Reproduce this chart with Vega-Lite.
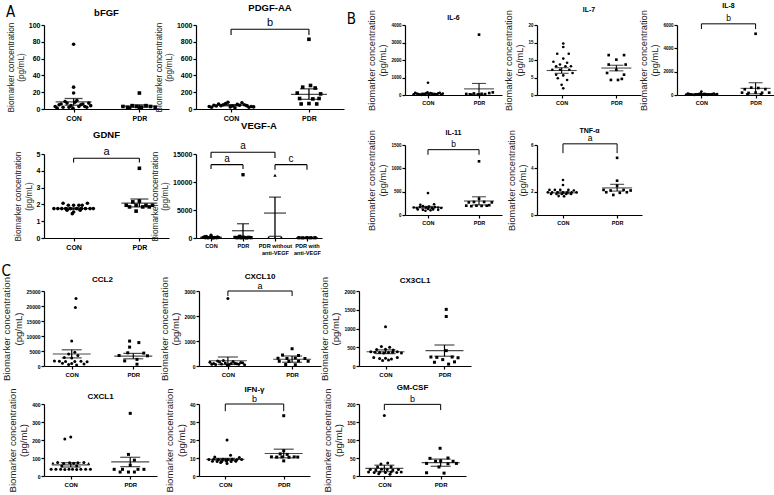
{
"$schema":"https://vega.github.io/schema/vega-lite/v6.json",
"padding":{"left":1,"top":1,"right":1,"bottom":0},
"background":"white",
"config":{
"view":{"stroke":null},
"font":"Liberation Sans",
"axis":{"grid":false,"domainColor":"#000","tickColor":"#000","domainWidth":1.2,"tickWidth":1.2,"labelColor":"#000","labelFontWeight":"bold","titleColor":"#222","titleFontWeight":"normal","labelFont":"Liberation Sans","titleFont":"Liberation Sans","labelOverlap":false,"labelFlush":false},
"axisX":{"tickSize":3,"labelPadding":2},
"axisY":{"tickSize":3,"labelPadding":1},
"title":{"fontWeight":"bold","color":"#000","anchor":"middle","frame":"group","font":"Liberation Sans"},
"point":{"filled":true,"color":"#000","opacity":1},
"rule":{"color":"#000"},
"tick":{"color":"#000"},
"text":{"color":"#000","font":"Liberation Sans"}
},
"datasets":{
"pts":[
{"p":"bFGF","g":"C","x":1,"v":77},{"p":"bFGF","g":"C","x":1,"v":26},{"p":"bFGF","g":"C","x":1,"v":19},{"p":"bFGF","g":"C","x":0.72,"v":3},{"p":"bFGF","g":"C","x":0.78,"v":5},{"p":"bFGF","g":"C","x":0.84,"v":2},{"p":"bFGF","g":"C","x":0.9,"v":7},{"p":"bFGF","g":"C","x":0.96,"v":4},{"p":"bFGF","g":"C","x":1.02,"v":8},{"p":"bFGF","g":"C","x":1.08,"v":3},{"p":"bFGF","g":"C","x":1.14,"v":6},{"p":"bFGF","g":"C","x":1.2,"v":2},{"p":"bFGF","g":"C","x":1.26,"v":4},{"p":"bFGF","g":"C","x":0.75,"v":1},{"p":"bFGF","g":"C","x":0.87,"v":9},{"p":"bFGF","g":"C","x":0.99,"v":1},{"p":"bFGF","g":"C","x":1.11,"v":5},{"p":"bFGF","g":"C","x":1.23,"v":7},{"p":"bFGF","g":"C","x":0.81,"v":6},{"p":"bFGF","g":"C","x":0.93,"v":2},{"p":"bFGF","g":"C","x":1.05,"v":10},{"p":"bFGF","g":"C","x":1.17,"v":3},
{"p":"bFGF","g":"P","x":2,"v":19},{"p":"bFGF","g":"P","x":1.75,"v":3},{"p":"bFGF","g":"P","x":1.82,"v":2},{"p":"bFGF","g":"P","x":1.89,"v":4},{"p":"bFGF","g":"P","x":1.96,"v":3},{"p":"bFGF","g":"P","x":2.03,"v":2},{"p":"bFGF","g":"P","x":2.1,"v":4},{"p":"bFGF","g":"P","x":2.17,"v":3},{"p":"bFGF","g":"P","x":2.24,"v":2},{"p":"bFGF","g":"P","x":1.85,"v":1},{"p":"bFGF","g":"P","x":2,"v":1},
{"p":"PDGF","g":"C","x":0.72,"v":30},{"p":"PDGF","g":"C","x":0.78,"v":45},{"p":"PDGF","g":"C","x":0.84,"v":60},{"p":"PDGF","g":"C","x":0.9,"v":50},{"p":"PDGF","g":"C","x":0.96,"v":80},{"p":"PDGF","g":"C","x":1.02,"v":35},{"p":"PDGF","g":"C","x":1.08,"v":55},{"p":"PDGF","g":"C","x":1.14,"v":75},{"p":"PDGF","g":"C","x":1.2,"v":40},{"p":"PDGF","g":"C","x":1.26,"v":30},{"p":"PDGF","g":"C","x":0.75,"v":20},{"p":"PDGF","g":"C","x":0.87,"v":40},{"p":"PDGF","g":"C","x":0.99,"v":25},{"p":"PDGF","g":"C","x":1.11,"v":45},{"p":"PDGF","g":"C","x":1.23,"v":20},{"p":"PDGF","g":"C","x":0.81,"v":35},{"p":"PDGF","g":"C","x":0.93,"v":65},{"p":"PDGF","g":"C","x":1.05,"v":15},{"p":"PDGF","g":"C","x":1.17,"v":50},{"p":"PDGF","g":"C","x":1.29,"v":25},
{"p":"PDGF","g":"P","x":2,"v":830},{"p":"PDGF","g":"P","x":1.92,"v":260},{"p":"PDGF","g":"P","x":2.02,"v":280},{"p":"PDGF","g":"P","x":2.08,"v":250},{"p":"PDGF","g":"P","x":1.85,"v":190},{"p":"PDGF","g":"P","x":2.15,"v":180},{"p":"PDGF","g":"P","x":1.88,"v":125},{"p":"PDGF","g":"P","x":2.05,"v":120},{"p":"PDGF","g":"P","x":2.13,"v":125},{"p":"PDGF","g":"P","x":1.9,"v":60},{"p":"PDGF","g":"P","x":2,"v":65},{"p":"PDGF","g":"P","x":2.1,"v":60},
{"p":"GDNF","g":"C","x":0.84,"v":2.07},{"p":"GDNF","g":"C","x":1.21,"v":2.07},{"p":"GDNF","g":"C","x":0.92,"v":1.95},{"p":"GDNF","g":"C","x":1,"v":1.95},{"p":"GDNF","g":"C","x":1.08,"v":1.95},{"p":"GDNF","g":"C","x":1.13,"v":1.95},{"p":"GDNF","g":"C","x":0.7,"v":1.75},{"p":"GDNF","g":"C","x":0.76,"v":1.75},{"p":"GDNF","g":"C","x":0.82,"v":1.75},{"p":"GDNF","g":"C","x":0.88,"v":1.75},{"p":"GDNF","g":"C","x":0.95,"v":1.75},{"p":"GDNF","g":"C","x":1.05,"v":1.75},{"p":"GDNF","g":"C","x":1.12,"v":1.75},{"p":"GDNF","g":"C","x":1.18,"v":1.75},{"p":"GDNF","g":"C","x":1.25,"v":1.75},{"p":"GDNF","g":"C","x":1.3,"v":1.75},{"p":"GDNF","g":"C","x":0.9,"v":1.65},{"p":"GDNF","g":"C","x":1,"v":1.55},{"p":"GDNF","g":"C","x":1.1,"v":1.65},{"p":"GDNF","g":"C","x":0.98,"v":1.45},
{"p":"GDNF","g":"P","x":2,"v":4.15},{"p":"GDNF","g":"P","x":1.9,"v":2.15},{"p":"GDNF","g":"P","x":2,"v":2.2},{"p":"GDNF","g":"P","x":1.8,"v":1.95},{"p":"GDNF","g":"P","x":1.95,"v":1.95},{"p":"GDNF","g":"P","x":2.1,"v":1.95},{"p":"GDNF","g":"P","x":2.2,"v":1.95},{"p":"GDNF","g":"P","x":1.85,"v":1.85},{"p":"GDNF","g":"P","x":2.05,"v":1.85},{"p":"GDNF","g":"P","x":2.15,"v":1.85},{"p":"GDNF","g":"P","x":1.95,"v":1.6},
{"p":"VEGF","g":"C","x":1,"v":500},{"p":"VEGF","g":"C","x":0.75,"v":100},{"p":"VEGF","g":"C","x":0.82,"v":50},{"p":"VEGF","g":"C","x":0.88,"v":150},{"p":"VEGF","g":"C","x":0.94,"v":80},{"p":"VEGF","g":"C","x":1,"v":200},{"p":"VEGF","g":"C","x":1.06,"v":60},{"p":"VEGF","g":"C","x":1.12,"v":120},{"p":"VEGF","g":"C","x":1.18,"v":40},{"p":"VEGF","g":"C","x":1.24,"v":90},{"p":"VEGF","g":"C","x":0.8,"v":250},{"p":"VEGF","g":"C","x":0.9,"v":20},{"p":"VEGF","g":"C","x":1.1,"v":30},{"p":"VEGF","g":"C","x":1.2,"v":180},{"p":"VEGF","g":"C","x":0.85,"v":300},{"p":"VEGF","g":"C","x":1.05,"v":10},{"p":"VEGF","g":"C","x":1.15,"v":70},
{"p":"VEGF","g":"P","x":2,"v":11300},{"p":"VEGF","g":"P","x":1.75,"v":100},{"p":"VEGF","g":"P","x":1.82,"v":50},{"p":"VEGF","g":"P","x":1.88,"v":200},{"p":"VEGF","g":"P","x":1.94,"v":30},{"p":"VEGF","g":"P","x":2,"v":150},{"p":"VEGF","g":"P","x":2.06,"v":80},{"p":"VEGF","g":"P","x":2.12,"v":20},{"p":"VEGF","g":"P","x":2.18,"v":120},{"p":"VEGF","g":"P","x":2.25,"v":60},{"p":"VEGF","g":"P","x":1.9,"v":300},
{"p":"VEGF","g":"W","x":3,"v":11200},{"p":"VEGF","g":"W","x":2.8,"v":100},{"p":"VEGF","g":"W","x":3,"v":80},{"p":"VEGF","g":"W","x":3.2,"v":120},
{"p":"VEGF","g":"A","x":3.75,"v":50},{"p":"VEGF","g":"A","x":3.87,"v":30},{"p":"VEGF","g":"A","x":4,"v":60},{"p":"VEGF","g":"A","x":4.12,"v":40},{"p":"VEGF","g":"A","x":4.25,"v":50},
{"p":"IL6","g":"C","x":1,"v":700},{"p":"IL6","g":"C","x":0.72,"v":40},{"p":"IL6","g":"C","x":0.78,"v":80},{"p":"IL6","g":"C","x":0.84,"v":20},{"p":"IL6","g":"C","x":0.9,"v":60},{"p":"IL6","g":"C","x":0.96,"v":100},{"p":"IL6","g":"C","x":1.02,"v":30},{"p":"IL6","g":"C","x":1.08,"v":70},{"p":"IL6","g":"C","x":1.14,"v":50},{"p":"IL6","g":"C","x":1.2,"v":90},{"p":"IL6","g":"C","x":1.26,"v":20},{"p":"IL6","g":"C","x":0.75,"v":120},{"p":"IL6","g":"C","x":0.87,"v":10},{"p":"IL6","g":"C","x":0.99,"v":150},{"p":"IL6","g":"C","x":1.11,"v":15},{"p":"IL6","g":"C","x":1.23,"v":130},{"p":"IL6","g":"C","x":0.81,"v":60},{"p":"IL6","g":"C","x":0.93,"v":45},{"p":"IL6","g":"C","x":1.05,"v":110},{"p":"IL6","g":"C","x":1.17,"v":35},{"p":"IL6","g":"C","x":1.29,"v":80},
{"p":"IL6","g":"P","x":2,"v":3450},{"p":"IL6","g":"P","x":1.75,"v":60},{"p":"IL6","g":"P","x":1.82,"v":40},{"p":"IL6","g":"P","x":1.9,"v":90},{"p":"IL6","g":"P","x":1.98,"v":30},{"p":"IL6","g":"P","x":2.05,"v":70},{"p":"IL6","g":"P","x":2.12,"v":50},{"p":"IL6","g":"P","x":2.2,"v":110},{"p":"IL6","g":"P","x":2.27,"v":150},{"p":"IL6","g":"P","x":1.85,"v":20},{"p":"IL6","g":"P","x":2,"v":10},
{"p":"IL7","g":"C","x":1.03,"v":14.7},{"p":"IL7","g":"C","x":1.03,"v":13.7},{"p":"IL7","g":"C","x":0.92,"v":11.8},{"p":"IL7","g":"C","x":1.13,"v":11.8},{"p":"IL7","g":"C","x":1.03,"v":10.4},{"p":"IL7","g":"C","x":0.85,"v":9.5},{"p":"IL7","g":"C","x":1.1,"v":9.2},{"p":"IL7","g":"C","x":0.97,"v":8.7},{"p":"IL7","g":"C","x":0.9,"v":8.2},{"p":"IL7","g":"C","x":1.07,"v":8.2},{"p":"IL7","g":"C","x":1.17,"v":8.2},{"p":"IL7","g":"C","x":0.83,"v":7.2},{"p":"IL7","g":"C","x":0.97,"v":7.2},{"p":"IL7","g":"C","x":1.14,"v":7.2},{"p":"IL7","g":"C","x":1.2,"v":6.3},{"p":"IL7","g":"C","x":0.9,"v":5.8},{"p":"IL7","g":"C","x":1.03,"v":5.6},{"p":"IL7","g":"C","x":0.93,"v":4.8},{"p":"IL7","g":"C","x":1.1,"v":4.3},{"p":"IL7","g":"C","x":1,"v":2.9},{"p":"IL7","g":"C","x":1.03,"v":1.9},
{"p":"IL7","g":"P","x":1.86,"v":11.4},{"p":"IL7","g":"P","x":2.14,"v":11.4},{"p":"IL7","g":"P","x":2,"v":10.1},{"p":"IL7","g":"P","x":1.86,"v":8.7},{"p":"IL7","g":"P","x":2.17,"v":8.7},{"p":"IL7","g":"P","x":2,"v":7.2},{"p":"IL7","g":"P","x":1.83,"v":6.3},{"p":"IL7","g":"P","x":2.14,"v":5.8},{"p":"IL7","g":"P","x":1.9,"v":4.3},{"p":"IL7","g":"P","x":2.03,"v":4.3},{"p":"IL7","g":"P","x":2.1,"v":4.6},
{"p":"IL8","g":"C","x":1,"v":290},{"p":"IL8","g":"C","x":0.72,"v":40},{"p":"IL8","g":"C","x":0.78,"v":80},{"p":"IL8","g":"C","x":0.84,"v":20},{"p":"IL8","g":"C","x":0.9,"v":60},{"p":"IL8","g":"C","x":0.96,"v":100},{"p":"IL8","g":"C","x":1.02,"v":30},{"p":"IL8","g":"C","x":1.08,"v":70},{"p":"IL8","g":"C","x":1.14,"v":50},{"p":"IL8","g":"C","x":1.2,"v":90},{"p":"IL8","g":"C","x":1.26,"v":20},{"p":"IL8","g":"C","x":0.75,"v":120},{"p":"IL8","g":"C","x":0.87,"v":10},{"p":"IL8","g":"C","x":0.99,"v":150},{"p":"IL8","g":"C","x":1.11,"v":15},{"p":"IL8","g":"C","x":1.23,"v":130},{"p":"IL8","g":"C","x":0.81,"v":60},{"p":"IL8","g":"C","x":0.93,"v":45},{"p":"IL8","g":"C","x":1.05,"v":110},{"p":"IL8","g":"C","x":1.17,"v":35},{"p":"IL8","g":"C","x":1.29,"v":80},
{"p":"IL8","g":"P","x":2,"v":5250},{"p":"IL8","g":"P","x":1.92,"v":630},{"p":"IL8","g":"P","x":2.05,"v":600},{"p":"IL8","g":"P","x":1.8,"v":490},{"p":"IL8","g":"P","x":2.18,"v":500},{"p":"IL8","g":"P","x":1.75,"v":200},{"p":"IL8","g":"P","x":1.87,"v":180},{"p":"IL8","g":"P","x":2,"v":210},{"p":"IL8","g":"P","x":2.12,"v":190},{"p":"IL8","g":"P","x":2.25,"v":200},{"p":"IL8","g":"P","x":1.85,"v":60},{"p":"IL8","g":"P","x":2.1,"v":50},
{"p":"IL11","g":"C","x":1,"v":470},{"p":"IL11","g":"C","x":0.85,"v":220},{"p":"IL11","g":"C","x":1.12,"v":230},{"p":"IL11","g":"C","x":0.72,"v":160},{"p":"IL11","g":"C","x":0.78,"v":150},{"p":"IL11","g":"C","x":0.84,"v":170},{"p":"IL11","g":"C","x":0.9,"v":190},{"p":"IL11","g":"C","x":0.96,"v":160},{"p":"IL11","g":"C","x":1.02,"v":180},{"p":"IL11","g":"C","x":1.08,"v":150},{"p":"IL11","g":"C","x":1.14,"v":170},{"p":"IL11","g":"C","x":1.2,"v":160},{"p":"IL11","g":"C","x":1.26,"v":150},{"p":"IL11","g":"C","x":0.8,"v":120},{"p":"IL11","g":"C","x":0.9,"v":110},{"p":"IL11","g":"C","x":1,"v":130},{"p":"IL11","g":"C","x":1.1,"v":120},{"p":"IL11","g":"C","x":1.2,"v":110},{"p":"IL11","g":"C","x":0.95,"v":90},{"p":"IL11","g":"C","x":1.05,"v":100},
{"p":"IL11","g":"P","x":2,"v":1150},{"p":"IL11","g":"P","x":2,"v":350},{"p":"IL11","g":"P","x":1.8,"v":270},{"p":"IL11","g":"P","x":1.9,"v":280},{"p":"IL11","g":"P","x":2.1,"v":280},{"p":"IL11","g":"P","x":2.25,"v":270},{"p":"IL11","g":"P","x":1.75,"v":200},{"p":"IL11","g":"P","x":1.85,"v":190},{"p":"IL11","g":"P","x":1.95,"v":200},{"p":"IL11","g":"P","x":2.05,"v":195},{"p":"IL11","g":"P","x":2.15,"v":200},{"p":"IL11","g":"P","x":2.2,"v":210},
{"p":"TNF","g":"C","x":1,"v":3.0},{"p":"TNF","g":"C","x":1,"v":2.57},{"p":"TNF","g":"C","x":0.75,"v":2.15},{"p":"TNF","g":"C","x":0.85,"v":2.15},{"p":"TNF","g":"C","x":0.95,"v":2.15},{"p":"TNF","g":"C","x":1.1,"v":2.15},{"p":"TNF","g":"C","x":1.2,"v":2.1},{"p":"TNF","g":"C","x":0.72,"v":1.94},{"p":"TNF","g":"C","x":0.8,"v":1.94},{"p":"TNF","g":"C","x":0.9,"v":1.94},{"p":"TNF","g":"C","x":1,"v":1.94},{"p":"TNF","g":"C","x":1.08,"v":1.94},{"p":"TNF","g":"C","x":1.16,"v":1.94},{"p":"TNF","g":"C","x":1.25,"v":1.94},{"p":"TNF","g":"C","x":0.78,"v":1.8},{"p":"TNF","g":"C","x":0.88,"v":1.8},{"p":"TNF","g":"C","x":0.98,"v":1.8},{"p":"TNF","g":"C","x":1.06,"v":1.8},{"p":"TNF","g":"C","x":1.15,"v":1.8},{"p":"TNF","g":"C","x":0.92,"v":1.62},{"p":"TNF","g":"C","x":1.02,"v":1.6},
{"p":"TNF","g":"P","x":2,"v":4.9},{"p":"TNF","g":"P","x":2,"v":2.94},{"p":"TNF","g":"P","x":2,"v":2.5},{"p":"TNF","g":"P","x":1.75,"v":2.15},{"p":"TNF","g":"P","x":1.88,"v":2.1},{"p":"TNF","g":"P","x":2.12,"v":2.15},{"p":"TNF","g":"P","x":2.25,"v":2.1},{"p":"TNF","g":"P","x":1.8,"v":1.95},{"p":"TNF","g":"P","x":2.05,"v":1.9},{"p":"TNF","g":"P","x":2.18,"v":1.95},{"p":"TNF","g":"P","x":1.93,"v":1.72},
{"p":"CCL2","g":"C","x":1.07,"v":22500},{"p":"CCL2","g":"C","x":1.06,"v":19500},{"p":"CCL2","g":"C","x":1,"v":8300},{"p":"CCL2","g":"C","x":1.05,"v":4600},{"p":"CCL2","g":"C","x":0.95,"v":4000},{"p":"CCL2","g":"C","x":1.1,"v":3500},{"p":"CCL2","g":"C","x":0.88,"v":2800},{"p":"CCL2","g":"C","x":1,"v":2700},{"p":"CCL2","g":"C","x":0.72,"v":1700},{"p":"CCL2","g":"C","x":0.8,"v":1600},{"p":"CCL2","g":"C","x":0.9,"v":1500},{"p":"CCL2","g":"C","x":1.05,"v":1500},{"p":"CCL2","g":"C","x":1.15,"v":1600},{"p":"CCL2","g":"C","x":1.25,"v":1400},{"p":"CCL2","g":"C","x":0.85,"v":900},{"p":"CCL2","g":"C","x":1,"v":800},{"p":"CCL2","g":"C","x":1.2,"v":700},{"p":"CCL2","g":"C","x":0.95,"v":500},{"p":"CCL2","g":"C","x":1.08,"v":300},
{"p":"CCL2","g":"P","x":1.94,"v":8300},{"p":"CCL2","g":"P","x":2.09,"v":7800},{"p":"CCL2","g":"P","x":1.94,"v":6300},{"p":"CCL2","g":"P","x":1.91,"v":4400},{"p":"CCL2","g":"P","x":2.17,"v":4300},{"p":"CCL2","g":"P","x":1.77,"v":3500},{"p":"CCL2","g":"P","x":2.23,"v":3400},{"p":"CCL2","g":"P","x":2.06,"v":2200},{"p":"CCL2","g":"P","x":1.86,"v":1700},{"p":"CCL2","g":"P","x":2.06,"v":600},
{"p":"CXCL10","g":"C","x":1,"v":2700},{"p":"CXCL10","g":"C","x":0.72,"v":150},{"p":"CXCL10","g":"C","x":0.78,"v":100},{"p":"CXCL10","g":"C","x":0.84,"v":200},{"p":"CXCL10","g":"C","x":0.9,"v":80},{"p":"CXCL10","g":"C","x":0.96,"v":120},{"p":"CXCL10","g":"C","x":1.02,"v":60},{"p":"CXCL10","g":"C","x":1.08,"v":180},{"p":"CXCL10","g":"C","x":1.14,"v":90},{"p":"CXCL10","g":"C","x":1.2,"v":140},{"p":"CXCL10","g":"C","x":1.26,"v":50},{"p":"CXCL10","g":"C","x":0.75,"v":70},{"p":"CXCL10","g":"C","x":0.87,"v":160},{"p":"CXCL10","g":"C","x":0.99,"v":40},{"p":"CXCL10","g":"C","x":1.11,"v":110},{"p":"CXCL10","g":"C","x":1.23,"v":130},{"p":"CXCL10","g":"C","x":0.81,"v":60},{"p":"CXCL10","g":"C","x":0.93,"v":220},{"p":"CXCL10","g":"C","x":1.05,"v":100},{"p":"CXCL10","g":"C","x":1.17,"v":75},
{"p":"CXCL10","g":"P","x":2,"v":690},{"p":"CXCL10","g":"P","x":1.85,"v":440},{"p":"CXCL10","g":"P","x":2.1,"v":420},{"p":"CXCL10","g":"P","x":1.78,"v":310},{"p":"CXCL10","g":"P","x":1.92,"v":300},{"p":"CXCL10","g":"P","x":2.05,"v":320},{"p":"CXCL10","g":"P","x":2.2,"v":300},{"p":"CXCL10","g":"P","x":1.8,"v":190},{"p":"CXCL10","g":"P","x":1.95,"v":180},{"p":"CXCL10","g":"P","x":2.1,"v":200},{"p":"CXCL10","g":"P","x":2.25,"v":190},{"p":"CXCL10","g":"P","x":1.9,"v":60},{"p":"CXCL10","g":"P","x":2.05,"v":50},
{"p":"CX3CL1","g":"C","x":1,"v":1050},{"p":"CX3CL1","g":"C","x":0.93,"v":520},{"p":"CX3CL1","g":"C","x":1.07,"v":500},{"p":"CX3CL1","g":"C","x":0.85,"v":440},{"p":"CX3CL1","g":"C","x":1,"v":450},{"p":"CX3CL1","g":"C","x":1.13,"v":430},{"p":"CX3CL1","g":"C","x":0.75,"v":380},{"p":"CX3CL1","g":"C","x":0.82,"v":370},{"p":"CX3CL1","g":"C","x":0.9,"v":360},{"p":"CX3CL1","g":"C","x":0.97,"v":350},{"p":"CX3CL1","g":"C","x":1.05,"v":360},{"p":"CX3CL1","g":"C","x":1.12,"v":370},{"p":"CX3CL1","g":"C","x":1.2,"v":380},{"p":"CX3CL1","g":"C","x":1.27,"v":350},{"p":"CX3CL1","g":"C","x":0.8,"v":230},{"p":"CX3CL1","g":"C","x":0.9,"v":200},{"p":"CX3CL1","g":"C","x":1,"v":210},{"p":"CX3CL1","g":"C","x":1.1,"v":190},{"p":"CX3CL1","g":"C","x":1.2,"v":230},{"p":"CX3CL1","g":"C","x":0.95,"v":150},{"p":"CX3CL1","g":"C","x":1.05,"v":160},
{"p":"CX3CL1","g":"P","x":2.03,"v":1510},{"p":"CX3CL1","g":"P","x":2.03,"v":1320},{"p":"CX3CL1","g":"P","x":2.03,"v":410},{"p":"CX3CL1","g":"P","x":1.77,"v":240},{"p":"CX3CL1","g":"P","x":1.87,"v":230},{"p":"CX3CL1","g":"P","x":2.13,"v":240},{"p":"CX3CL1","g":"P","x":2.23,"v":220},{"p":"CX3CL1","g":"P","x":1.97,"v":170},{"p":"CX3CL1","g":"P","x":1.83,"v":100},{"p":"CX3CL1","g":"P","x":2.17,"v":110},{"p":"CX3CL1","g":"P","x":2.07,"v":50},
{"p":"CXCL1","g":"C","x":1,"v":217},{"p":"CXCL1","g":"C","x":0.9,"v":205},{"p":"CXCL1","g":"W","x":0.7,"v":72},{"p":"CXCL1","g":"C","x":0.78,"v":75},{"p":"CXCL1","g":"C","x":0.88,"v":70},{"p":"CXCL1","g":"C","x":0.98,"v":73},{"p":"CXCL1","g":"C","x":1.05,"v":71},{"p":"CXCL1","g":"C","x":1.12,"v":74},{"p":"CXCL1","g":"C","x":1.22,"v":75},{"p":"CXCL1","g":"W","x":1.3,"v":70},{"p":"CXCL1","g":"C","x":0.85,"v":55},{"p":"CXCL1","g":"C","x":1.1,"v":55},{"p":"CXCL1","g":"C","x":0.67,"v":38},{"p":"CXCL1","g":"C","x":0.75,"v":37},{"p":"CXCL1","g":"C","x":0.83,"v":38},{"p":"CXCL1","g":"C","x":0.9,"v":36},{"p":"CXCL1","g":"C","x":0.97,"v":37},{"p":"CXCL1","g":"C","x":1.03,"v":38},{"p":"CXCL1","g":"C","x":1.1,"v":36},{"p":"CXCL1","g":"C","x":1.17,"v":37},{"p":"CXCL1","g":"C","x":1.25,"v":38},{"p":"CXCL1","g":"C","x":1.33,"v":37},
{"p":"CXCL1","g":"P","x":2,"v":348},{"p":"CXCL1","g":"P","x":1.97,"v":120},{"p":"CXCL1","g":"P","x":2.07,"v":88},{"p":"CXCL1","g":"P","x":2,"v":60},{"p":"CXCL1","g":"P","x":1.73,"v":37},{"p":"CXCL1","g":"P","x":1.87,"v":37},{"p":"CXCL1","g":"P","x":2.13,"v":37},{"p":"CXCL1","g":"P","x":2.23,"v":37},{"p":"CXCL1","g":"P","x":1.83,"v":22},{"p":"CXCL1","g":"P","x":1.97,"v":22},{"p":"CXCL1","g":"P","x":2.07,"v":22},
{"p":"IFN","g":"C","x":1.03,"v":20},{"p":"IFN","g":"C","x":1.09,"v":11.5},{"p":"IFN","g":"C","x":0.82,"v":10.5},{"p":"IFN","g":"C","x":1.24,"v":10.3},{"p":"IFN","g":"C","x":0.72,"v":9.2},{"p":"IFN","g":"C","x":0.8,"v":9.3},{"p":"IFN","g":"C","x":0.88,"v":9.1},{"p":"IFN","g":"C","x":0.96,"v":9.3},{"p":"IFN","g":"C","x":1.04,"v":9.2},{"p":"IFN","g":"C","x":1.12,"v":9.3},{"p":"IFN","g":"C","x":1.2,"v":9.1},{"p":"IFN","g":"C","x":1.28,"v":9.2},{"p":"IFN","g":"C","x":0.78,"v":8.2},{"p":"IFN","g":"C","x":0.86,"v":8.0},{"p":"IFN","g":"C","x":0.94,"v":8.1},{"p":"IFN","g":"C","x":1.02,"v":8.2},{"p":"IFN","g":"C","x":1.1,"v":8.0},{"p":"IFN","g":"C","x":1.18,"v":8.2},{"p":"IFN","g":"C","x":1.03,"v":7.0},{"p":"IFN","g":"C","x":0.92,"v":7.5},
{"p":"IFN","g":"P","x":2,"v":33.5},{"p":"IFN","g":"P","x":2,"v":14},{"p":"IFN","g":"P","x":1.94,"v":12.3},{"p":"IFN","g":"P","x":2.06,"v":12},{"p":"IFN","g":"P","x":1.79,"v":10.6},{"p":"IFN","g":"P","x":1.88,"v":10.5},{"p":"IFN","g":"P","x":1.97,"v":10.6},{"p":"IFN","g":"P","x":2.09,"v":10.4},{"p":"IFN","g":"P","x":2.18,"v":10.6},{"p":"IFN","g":"P","x":2.24,"v":10.5},{"p":"IFN","g":"P","x":2,"v":8.4},
{"p":"GMCSF","g":"C","x":1,"v":168},{"p":"GMCSF","g":"C","x":1.06,"v":36},{"p":"GMCSF","g":"C","x":0.94,"v":33},{"p":"GMCSF","g":"C","x":0.88,"v":25},{"p":"GMCSF","g":"C","x":1.12,"v":26},{"p":"GMCSF","g":"C","x":0.75,"v":18},{"p":"GMCSF","g":"C","x":0.85,"v":17},{"p":"GMCSF","g":"C","x":0.95,"v":19},{"p":"GMCSF","g":"C","x":1.05,"v":18},{"p":"GMCSF","g":"C","x":1.15,"v":17},{"p":"GMCSF","g":"C","x":1.25,"v":18},{"p":"GMCSF","g":"C","x":0.72,"v":11},{"p":"GMCSF","g":"C","x":0.82,"v":10},{"p":"GMCSF","g":"C","x":0.92,"v":11},{"p":"GMCSF","g":"C","x":1.02,"v":10},{"p":"GMCSF","g":"C","x":1.12,"v":11},{"p":"GMCSF","g":"C","x":1.22,"v":10},{"p":"GMCSF","g":"C","x":1.3,"v":11},{"p":"GMCSF","g":"C","x":0.9,"v":6},{"p":"GMCSF","g":"C","x":1.1,"v":5},
{"p":"GMCSF","g":"P","x":1.99,"v":77},{"p":"GMCSF","g":"P","x":1.81,"v":49},{"p":"GMCSF","g":"P","x":2.13,"v":50},{"p":"GMCSF","g":"P","x":1.91,"v":41},{"p":"GMCSF","g":"P","x":2,"v":42},{"p":"GMCSF","g":"P","x":2.22,"v":41},{"p":"GMCSF","g":"P","x":1.75,"v":35},{"p":"GMCSF","g":"P","x":2.13,"v":34},{"p":"GMCSF","g":"P","x":2.28,"v":35},{"p":"GMCSF","g":"P","x":1.97,"v":25},{"p":"GMCSF","g":"P","x":1.75,"v":9},{"p":"GMCSF","g":"P","x":2.06,"v":8}
],
"st":[
{"p":"bFGF","x":1,"m":8.5,"lo":4.5,"hi":12.5},{"p":"bFGF","x":2,"m":3.5,"lo":2,"hi":5},
{"p":"PDGF","x":1,"m":45,"lo":38,"hi":52},{"p":"PDGF","x":2,"m":175,"lo":115,"hi":240},
{"p":"IL6","x":1,"m":75,"lo":40,"hi":110},{"p":"IL6","x":2,"m":350,"lo":40,"hi":660},
{"p":"IL7","x":1,"m":7,"lo":6.2,"hi":7.8},{"p":"IL7","x":2,"m":7.7,"lo":6.9,"hi":8.5},
{"p":"IL8","x":1,"m":80,"lo":50,"hi":110},{"p":"IL8","x":2,"m":570,"lo":100,"hi":1050},
{"p":"GDNF","x":1,"m":1.75,"lo":1.7,"hi":1.8},{"p":"GDNF","x":2,"m":2.08,"lo":1.85,"hi":2.32},
{"p":"VEGF","x":1,"m":130,"lo":80,"hi":180},{"p":"VEGF","x":2,"m":1300,"lo":50,"hi":2550},{"p":"VEGF","x":3,"m":4450,"lo":300,"hi":7300},{"p":"VEGF","x":4,"m":45,"lo":35,"hi":55},
{"p":"IL11","x":1,"m":165,"lo":145,"hi":185},{"p":"IL11","x":2,"m":300,"lo":215,"hi":390},
{"p":"TNF","x":1,"m":1.9,"lo":1.82,"hi":1.98},{"p":"TNF","x":2,"m":2.32,"lo":2.05,"hi":2.63},
{"p":"CCL2","x":1,"m":4000,"lo":2700,"hi":5400},{"p":"CCL2","x":2,"m":3300,"lo":2400,"hi":4200},
{"p":"CXCL10","x":1,"m":210,"lo":60,"hi":360},{"p":"CXCL10","x":2,"m":270,"lo":150,"hi":400},
{"p":"CX3CL1","x":1,"m":380,"lo":330,"hi":430},{"p":"CX3CL1","x":2,"m":410,"lo":260,"hi":560},
{"p":"CXCL1","x":1,"m":62,"lo":50,"hi":74},{"p":"CXCL1","x":2,"m":78,"lo":52,"hi":104},
{"p":"IFN","x":1,"m":9.2,"lo":8.6,"hi":9.8},{"p":"IFN","x":2,"m":12.5,"lo":10.1,"hi":14.9},
{"p":"GMCSF","x":1,"m":21,"lo":12,"hi":30},{"p":"GMCSF","x":2,"m":37,"lo":27,"hi":47}
],
"sig":[
{"p":"PDGF","a":1,"b":2,"m":1.5,"y":950,"y0":880,"t":"b"},
{"p":"IL8","a":1,"b":2,"m":1.5,"y":6100,"y0":5650,"t":"b"},
{"p":"GDNF","a":1,"b":2,"m":1.5,"y":4.75,"y0":4.5,"t":"a"},
{"p":"VEGF","a":1,"b":3,"m":2,"y":15300,"y0":14300,"t":"a"},
{"p":"VEGF","a":1,"b":2,"m":1.5,"y":13100,"y0":12300,"t":"a"},
{"p":"VEGF","a":3,"b":4,"m":3.5,"y":13100,"y0":12200,"t":"c"},
{"p":"IL11","a":1,"b":2,"m":1.5,"y":1400,"y0":1290,"t":"b"},
{"p":"TNF","a":1,"b":2,"m":1.5,"y":6.1,"y0":5.3,"t":"a"},
{"p":"CXCL10","a":1,"b":2,"m":1.5,"y":3000,"y0":2800,"t":"a"},
{"p":"IFN","a":1,"b":2,"m":1.5,"y":40,"y0":36,"t":"b"},
{"p":"GMCSF","a":1,"b":2,"m":1.5,"y":199,"y0":183,"t":"b"}
]
},
"vconcat":[
{"hconcat":[
{"title":{"text":"A","anchor":"start","frame":"bounds","fontSize":15,"fontWeight":"normal","font":"Liberation Sans Narrow, DejaVu Sans Condensed, sans-serif","offset":-17},
"columns":2,"bounds":"flush","spacing":{"row":45,"column":27},
"concat":[
{"width":125,"height":84,"title":{"text":"bFGF","fontSize":9.5,"offset":4},
"layer":[
{"data":{"name":"pts"},"transform":[{"filter":"datum.p=='bFGF'"}],"mark":{"type":"point","size":13},
"encoding":{"x":{"field":"x","type":"quantitative","scale":{"domain":[0.55,2.45],"nice":false,"zero":false},"axis":{"values":[1,2],"tickCount":10,"labelExpr":"datum.value==1?'CON':'PDR'","title":null,"labelFontSize":7,"labelOverlap":false}},
"y":{"field":"v","type":"quantitative","scale":{"domain":[0,100],"nice":false},"axis":{"values":[0,20,40,60,80,100],"tickCount":10,"format":"d","labelOverlap":false,"title":["Biomarker concentration","(pg/mL)"],"titleFontSize":8.3,"labelFontSize":7,"titlePadding":3}},
"shape":{"field":"g","type":"nominal","scale":{"domain":["C","P","W","A"],"range":["circle","square","triangle-up","square"]},"legend":null}}},
{"data":{"name":"st"},"transform":[{"filter":"datum.p=='bFGF'"}],"mark":{"type":"rule","strokeWidth":1.3},"encoding":{"x":{"field":"x","type":"quantitative"},"y":{"field":"lo","type":"quantitative"},"y2":{"field":"hi"}}},
{"data":{"name":"st"},"transform":[{"filter":"datum.p=='bFGF'"}],"mark":{"type":"tick","orient":"horizontal","thickness":1.3},"encoding":{"x":{"field":"x","type":"quantitative"},"y":{"field":"m","type":"quantitative"},"size":{"value":36}}},
{"data":{"name":"st"},"transform":[{"filter":"datum.p=='bFGF'"},{"fold":["lo","hi"],"as":["k","e"]}],"mark":{"type":"tick","orient":"horizontal","thickness":1.3},"encoding":{"x":{"field":"x","type":"quantitative"},"y":{"field":"e","type":"quantitative"},"size":{"value":18}}}
]},
{"width":148,"height":84,"title":{"text":"PDGF-AA","fontSize":9.5,"offset":5},
"layer":[
{"data":{"name":"pts"},"transform":[{"filter":"datum.p=='PDGF'"}],"mark":{"type":"point","size":13},
"encoding":{"x":{"field":"x","type":"quantitative","scale":{"domain":[0.55,2.45],"nice":false,"zero":false},"axis":{"values":[1,2],"tickCount":10,"labelExpr":"datum.value==1?'CON':'PDR'","title":null,"labelFontSize":7,"labelOverlap":false}},
"y":{"field":"v","type":"quantitative","scale":{"domain":[0,1000],"nice":false},"axis":{"values":[0,200,400,600,800,1000],"tickCount":10,"format":"d","labelOverlap":false,"title":["Biomarker concentration","(pg/mL)"],"titleFontSize":8.3,"labelFontSize":7,"titlePadding":3}},
"shape":{"field":"g","type":"nominal","scale":{"domain":["C","P","W","A"],"range":["circle","square","triangle-up","square"]},"legend":null}}},
{"data":{"name":"st"},"transform":[{"filter":"datum.p=='PDGF'"}],"mark":{"type":"rule","strokeWidth":1.3},"encoding":{"x":{"field":"x","type":"quantitative"},"y":{"field":"lo","type":"quantitative"},"y2":{"field":"hi"}}},
{"data":{"name":"st"},"transform":[{"filter":"datum.p=='PDGF'"}],"mark":{"type":"tick","orient":"horizontal","thickness":1.3},"encoding":{"x":{"field":"x","type":"quantitative"},"y":{"field":"m","type":"quantitative"},"size":{"value":36}}},
{"data":{"name":"st"},"transform":[{"filter":"datum.p=='PDGF'"},{"fold":["lo","hi"],"as":["k","e"]}],"mark":{"type":"tick","orient":"horizontal","thickness":1.3},"encoding":{"x":{"field":"x","type":"quantitative"},"y":{"field":"e","type":"quantitative"},"size":{"value":18}}},
{"data":{"name":"sig"},"transform":[{"filter":"datum.p=='PDGF'"}],"mark":{"type":"rule","strokeWidth":1.1},"encoding":{"x":{"field":"a","type":"quantitative"},"x2":{"field":"b"},"y":{"field":"y","type":"quantitative"}}},
{"data":{"name":"sig"},"transform":[{"filter":"datum.p=='PDGF'"},{"fold":["a","b"],"as":["k","e"]}],"mark":{"type":"rule","strokeWidth":1.1},"encoding":{"x":{"field":"e","type":"quantitative"},"y":{"field":"y","type":"quantitative"},"y2":{"field":"y0"}}},
{"data":{"name":"sig"},"transform":[{"filter":"datum.p=='PDGF'"}],"mark":{"type":"text","baseline":"bottom","dy":-1,"fontSize":11},"encoding":{"x":{"field":"m","type":"quantitative"},"y":{"field":"y","type":"quantitative"},"text":{"field":"t"}}}
]},
{"width":125,"height":84,"title":{"text":"GDNF","fontSize":9.5,"offset":7},
"layer":[
{"data":{"name":"pts"},"transform":[{"filter":"datum.p=='GDNF'"}],"mark":{"type":"point","size":13},
"encoding":{"x":{"field":"x","type":"quantitative","scale":{"domain":[0.55,2.45],"nice":false,"zero":false},"axis":{"values":[1,2],"tickCount":10,"labelExpr":"datum.value==1?'CON':'PDR'","title":null,"labelFontSize":7,"labelOverlap":false}},
"y":{"field":"v","type":"quantitative","scale":{"domain":[0,5],"nice":false},"axis":{"values":[0,1,2,3,4,5],"tickCount":10,"format":"d","labelOverlap":false,"title":["Biomarker concentration","(pg/mL)"],"titleFontSize":8.3,"labelFontSize":7,"titlePadding":3}},
"shape":{"field":"g","type":"nominal","scale":{"domain":["C","P","W","A"],"range":["circle","square","triangle-up","square"]},"legend":null}}},
{"data":{"name":"st"},"transform":[{"filter":"datum.p=='GDNF'"}],"mark":{"type":"rule","strokeWidth":1.3},"encoding":{"x":{"field":"x","type":"quantitative"},"y":{"field":"lo","type":"quantitative"},"y2":{"field":"hi"}}},
{"data":{"name":"st"},"transform":[{"filter":"datum.p=='GDNF'"}],"mark":{"type":"tick","orient":"horizontal","thickness":1.3},"encoding":{"x":{"field":"x","type":"quantitative"},"y":{"field":"m","type":"quantitative"},"size":{"value":36}}},
{"data":{"name":"st"},"transform":[{"filter":"datum.p=='GDNF'"},{"fold":["lo","hi"],"as":["k","e"]}],"mark":{"type":"tick","orient":"horizontal","thickness":1.3},"encoding":{"x":{"field":"x","type":"quantitative"},"y":{"field":"e","type":"quantitative"},"size":{"value":18}}},
{"data":{"name":"sig"},"transform":[{"filter":"datum.p=='GDNF'"}],"mark":{"type":"rule","strokeWidth":1.1},"encoding":{"x":{"field":"a","type":"quantitative"},"x2":{"field":"b"},"y":{"field":"y","type":"quantitative"}}},
{"data":{"name":"sig"},"transform":[{"filter":"datum.p=='GDNF'"},{"fold":["a","b"],"as":["k","e"]}],"mark":{"type":"rule","strokeWidth":1.1},"encoding":{"x":{"field":"e","type":"quantitative"},"y":{"field":"y","type":"quantitative"},"y2":{"field":"y0"}}},
{"data":{"name":"sig"},"transform":[{"filter":"datum.p=='GDNF'"}],"mark":{"type":"text","baseline":"bottom","dy":-1,"fontSize":11},"encoding":{"x":{"field":"m","type":"quantitative"},"y":{"field":"y","type":"quantitative"},"text":{"field":"t"}}}
]},
{"width":126,"height":84,"title":{"text":"VEGF-A","fontSize":9.5,"offset":11},
"layer":[
{"data":{"name":"pts"},"transform":[{"filter":"datum.p=='VEGF'"}],"mark":{"type":"point","size":11},
"encoding":{"x":{"field":"x","type":"quantitative","scale":{"domain":[0.53,4.47],"nice":false,"zero":false},"axis":{"values":[1,2,3,4],"tickCount":10,"labelExpr":"datum.value==1?'CON':datum.value==2?'PDR':datum.value==3?['PDR without','anti-VEGF']:['PDR with','anti-VEGF']","title":null,"labelFontSize":5.6,"labelOverlap":false}},
"y":{"field":"v","type":"quantitative","scale":{"domain":[0,15000],"nice":false},"axis":{"values":[0,5000,10000,15000],"tickCount":10,"format":"d","labelOverlap":false,"title":["Biomarker concentration","(pg/mL)"],"titleFontSize":8.3,"labelFontSize":7,"titlePadding":3}},
"shape":{"field":"g","type":"nominal","scale":{"domain":["C","P","W","A"],"range":["circle","square","triangle-up","square"]},"legend":null}}},
{"data":{"name":"st"},"transform":[{"filter":"datum.p=='VEGF'"}],"mark":{"type":"rule","strokeWidth":1.3},"encoding":{"x":{"field":"x","type":"quantitative"},"y":{"field":"lo","type":"quantitative"},"y2":{"field":"hi"}}},
{"data":{"name":"st"},"transform":[{"filter":"datum.p=='VEGF'"}],"mark":{"type":"tick","orient":"horizontal","thickness":1.3},"encoding":{"x":{"field":"x","type":"quantitative"},"y":{"field":"m","type":"quantitative"},"size":{"value":22}}},
{"data":{"name":"st"},"transform":[{"filter":"datum.p=='VEGF'"},{"fold":["lo","hi"],"as":["k","e"]}],"mark":{"type":"tick","orient":"horizontal","thickness":1.3},"encoding":{"x":{"field":"x","type":"quantitative"},"y":{"field":"e","type":"quantitative"},"size":{"value":12}}},
{"data":{"name":"sig"},"transform":[{"filter":"datum.p=='VEGF'"}],"mark":{"type":"rule","strokeWidth":1.1},"encoding":{"x":{"field":"a","type":"quantitative"},"x2":{"field":"b"},"y":{"field":"y","type":"quantitative"}}},
{"data":{"name":"sig"},"transform":[{"filter":"datum.p=='VEGF'"},{"fold":["a","b"],"as":["k","e"]}],"mark":{"type":"rule","strokeWidth":1.1},"encoding":{"x":{"field":"e","type":"quantitative"},"y":{"field":"y","type":"quantitative"},"y2":{"field":"y0"}}},
{"data":{"name":"sig"},"transform":[{"filter":"datum.p=='VEGF'"}],"mark":{"type":"text","baseline":"bottom","dy":-1,"fontSize":10},"encoding":{"x":{"field":"m","type":"quantitative"},"y":{"field":"y","type":"quantitative"},"text":{"field":"t"}}}
]}
]},
{"title":{"text":"B","anchor":"start","frame":"bounds","fontSize":15,"fontWeight":"normal","font":"Liberation Sans Narrow, DejaVu Sans Condensed, sans-serif","offset":-25,"dx":-21},
"columns":3,"bounds":"flush","spacing":{"row":50,"column":35},
"concat":[
{"width":97,"height":70,"title":{"text":"IL-6","fontSize":7,"offset":-11},
"layer":[
{"data":{"name":"pts"},"transform":[{"filter":"datum.p=='IL6'"}],"mark":{"type":"point","size":7},
"encoding":{"x":{"field":"x","type":"quantitative","scale":{"domain":[0.55,2.45],"nice":false,"zero":false},"axis":{"values":[1,2],"tickCount":10,"labelExpr":"datum.value==1?'CON':'PDR'","title":null,"labelFontSize":5.5,"labelOverlap":false}},
"y":{"field":"v","type":"quantitative","scale":{"domain":[0,4000],"nice":false},"axis":{"values":[0,1000,2000,3000,4000],"tickCount":10,"format":"d","labelOverlap":false,"title":["Biomarker concentration","(pg/mL)"],"titleFontSize":9.3,"labelFontSize":4.5,"titlePadding":3}},
"shape":{"field":"g","type":"nominal","scale":{"domain":["C","P","W","A"],"range":["circle","square","triangle-up","square"]},"legend":null}}},
{"data":{"name":"st"},"transform":[{"filter":"datum.p=='IL6'"}],"mark":{"type":"rule","strokeWidth":1.1},"encoding":{"x":{"field":"x","type":"quantitative"},"y":{"field":"lo","type":"quantitative"},"y2":{"field":"hi"}}},
{"data":{"name":"st"},"transform":[{"filter":"datum.p=='IL6'"}],"mark":{"type":"tick","orient":"horizontal","thickness":1.1},"encoding":{"x":{"field":"x","type":"quantitative"},"y":{"field":"m","type":"quantitative"},"size":{"value":30}}},
{"data":{"name":"st"},"transform":[{"filter":"datum.p=='IL6'"},{"fold":["lo","hi"],"as":["k","e"]}],"mark":{"type":"tick","orient":"horizontal","thickness":1.1},"encoding":{"x":{"field":"x","type":"quantitative"},"y":{"field":"e","type":"quantitative"},"size":{"value":14}}}
]},
{"width":104,"height":70,"title":{"text":"IL-7","fontSize":7,"offset":-3},
"layer":[
{"data":{"name":"pts"},"transform":[{"filter":"datum.p=='IL7'"}],"mark":{"type":"point","size":7},
"encoding":{"x":{"field":"x","type":"quantitative","scale":{"domain":[0.55,2.45],"nice":false,"zero":false},"axis":{"values":[1,2],"tickCount":10,"labelExpr":"datum.value==1?'CON':'PDR'","title":null,"labelFontSize":5.5,"labelOverlap":false}},
"y":{"field":"v","type":"quantitative","scale":{"domain":[0,20],"nice":false},"axis":{"values":[0,5,10,15,20],"tickCount":10,"format":"d","labelOverlap":false,"title":["Biomarker concentration","(pg/mL)"],"titleFontSize":9.3,"labelFontSize":4.5,"titlePadding":3}},
"shape":{"field":"g","type":"nominal","scale":{"domain":["C","P","W","A"],"range":["circle","square","triangle-up","square"]},"legend":null}}},
{"data":{"name":"st"},"transform":[{"filter":"datum.p=='IL7'"}],"mark":{"type":"rule","strokeWidth":1.1},"encoding":{"x":{"field":"x","type":"quantitative"},"y":{"field":"lo","type":"quantitative"},"y2":{"field":"hi"}}},
{"data":{"name":"st"},"transform":[{"filter":"datum.p=='IL7'"}],"mark":{"type":"tick","orient":"horizontal","thickness":1.1},"encoding":{"x":{"field":"x","type":"quantitative"},"y":{"field":"m","type":"quantitative"},"size":{"value":30}}},
{"data":{"name":"st"},"transform":[{"filter":"datum.p=='IL7'"},{"fold":["lo","hi"],"as":["k","e"]}],"mark":{"type":"tick","orient":"horizontal","thickness":1.1},"encoding":{"x":{"field":"x","type":"quantitative"},"y":{"field":"e","type":"quantitative"},"size":{"value":14}}}
]},
{"width":103,"height":70,"title":{"text":"IL-8","fontSize":7,"offset":1},
"layer":[
{"data":{"name":"pts"},"transform":[{"filter":"datum.p=='IL8'"}],"mark":{"type":"point","size":7},
"encoding":{"x":{"field":"x","type":"quantitative","scale":{"domain":[0.55,2.45],"nice":false,"zero":false},"axis":{"values":[1,2],"tickCount":10,"labelExpr":"datum.value==1?'CON':'PDR'","title":null,"labelFontSize":5.5,"labelOverlap":false}},
"y":{"field":"v","type":"quantitative","scale":{"domain":[0,6000],"nice":false},"axis":{"values":[0,2000,4000,6000],"tickCount":10,"format":"d","labelOverlap":false,"title":["Biomarker concentration","(pg/mL)"],"titleFontSize":9.3,"labelFontSize":4.5,"titlePadding":3}},
"shape":{"field":"g","type":"nominal","scale":{"domain":["C","P","W","A"],"range":["circle","square","triangle-up","square"]},"legend":null}}},
{"data":{"name":"st"},"transform":[{"filter":"datum.p=='IL8'"}],"mark":{"type":"rule","strokeWidth":1.1},"encoding":{"x":{"field":"x","type":"quantitative"},"y":{"field":"lo","type":"quantitative"},"y2":{"field":"hi"}}},
{"data":{"name":"st"},"transform":[{"filter":"datum.p=='IL8'"}],"mark":{"type":"tick","orient":"horizontal","thickness":1.1},"encoding":{"x":{"field":"x","type":"quantitative"},"y":{"field":"m","type":"quantitative"},"size":{"value":30}}},
{"data":{"name":"st"},"transform":[{"filter":"datum.p=='IL8'"},{"fold":["lo","hi"],"as":["k","e"]}],"mark":{"type":"tick","orient":"horizontal","thickness":1.1},"encoding":{"x":{"field":"x","type":"quantitative"},"y":{"field":"e","type":"quantitative"},"size":{"value":14}}},
{"data":{"name":"sig"},"transform":[{"filter":"datum.p=='IL8'"}],"mark":{"type":"rule","strokeWidth":1},"encoding":{"x":{"field":"a","type":"quantitative"},"x2":{"field":"b"},"y":{"field":"y","type":"quantitative"}}},
{"data":{"name":"sig"},"transform":[{"filter":"datum.p=='IL8'"},{"fold":["a","b"],"as":["k","e"]}],"mark":{"type":"rule","strokeWidth":1},"encoding":{"x":{"field":"e","type":"quantitative"},"y":{"field":"y","type":"quantitative"},"y2":{"field":"y0"}}},
{"data":{"name":"sig"},"transform":[{"filter":"datum.p=='IL8'"}],"mark":{"type":"text","baseline":"bottom","dy":-1,"fontSize":8.5},"encoding":{"x":{"field":"m","type":"quantitative"},"y":{"field":"y","type":"quantitative"},"text":{"field":"t"}}}
]},
{"width":97,"height":70,"title":{"text":"IL-11","fontSize":7,"offset":-6},
"layer":[
{"data":{"name":"pts"},"transform":[{"filter":"datum.p=='IL11'"}],"mark":{"type":"point","size":7},
"encoding":{"x":{"field":"x","type":"quantitative","scale":{"domain":[0.55,2.45],"nice":false,"zero":false},"axis":{"values":[1,2],"tickCount":10,"labelExpr":"datum.value==1?'CON':'PDR'","title":null,"labelFontSize":5.5,"labelOverlap":false}},
"y":{"field":"v","type":"quantitative","scale":{"domain":[0,1500],"nice":false},"axis":{"values":[0,500,1000,1500],"tickCount":10,"format":"d","labelOverlap":false,"title":["Biomarker concentration","(pg/mL)"],"titleFontSize":9.3,"labelFontSize":4.5,"titlePadding":3}},
"shape":{"field":"g","type":"nominal","scale":{"domain":["C","P","W","A"],"range":["circle","square","triangle-up","square"]},"legend":null}}},
{"data":{"name":"st"},"transform":[{"filter":"datum.p=='IL11'"}],"mark":{"type":"rule","strokeWidth":1.1},"encoding":{"x":{"field":"x","type":"quantitative"},"y":{"field":"lo","type":"quantitative"},"y2":{"field":"hi"}}},
{"data":{"name":"st"},"transform":[{"filter":"datum.p=='IL11'"}],"mark":{"type":"tick","orient":"horizontal","thickness":1.1},"encoding":{"x":{"field":"x","type":"quantitative"},"y":{"field":"m","type":"quantitative"},"size":{"value":30}}},
{"data":{"name":"st"},"transform":[{"filter":"datum.p=='IL11'"},{"fold":["lo","hi"],"as":["k","e"]}],"mark":{"type":"tick","orient":"horizontal","thickness":1.1},"encoding":{"x":{"field":"x","type":"quantitative"},"y":{"field":"e","type":"quantitative"},"size":{"value":14}}},
{"data":{"name":"sig"},"transform":[{"filter":"datum.p=='IL11'"}],"mark":{"type":"rule","strokeWidth":1},"encoding":{"x":{"field":"a","type":"quantitative"},"x2":{"field":"b"},"y":{"field":"y","type":"quantitative"}}},
{"data":{"name":"sig"},"transform":[{"filter":"datum.p=='IL11'"},{"fold":["a","b"],"as":["k","e"]}],"mark":{"type":"rule","strokeWidth":1},"encoding":{"x":{"field":"e","type":"quantitative"},"y":{"field":"y","type":"quantitative"},"y2":{"field":"y0"}}},
{"data":{"name":"sig"},"transform":[{"filter":"datum.p=='IL11'"}],"mark":{"type":"text","baseline":"bottom","dy":-1,"fontSize":8.5},"encoding":{"x":{"field":"m","type":"quantitative"},"y":{"field":"y","type":"quantitative"},"text":{"field":"t"}}}
]},
{"width":105,"height":70,"title":{"text":"TNF-α","fontSize":7,"offset":-4},
"layer":[
{"data":{"name":"pts"},"transform":[{"filter":"datum.p=='TNF'"}],"mark":{"type":"point","size":7},
"encoding":{"x":{"field":"x","type":"quantitative","scale":{"domain":[0.52,2.46],"nice":false,"zero":false},"axis":{"values":[1,2],"tickCount":10,"labelExpr":"datum.value==1?'CON':'PDR'","title":null,"labelFontSize":5.5,"labelOverlap":false}},
"y":{"field":"v","type":"quantitative","scale":{"domain":[0,6],"nice":false},"axis":{"values":[0,2,4,6],"tickCount":10,"format":"d","labelOverlap":false,"title":["Biomarker concentration","(pg/mL)"],"titleFontSize":9.3,"labelFontSize":4.5,"titlePadding":3}},
"shape":{"field":"g","type":"nominal","scale":{"domain":["C","P","W","A"],"range":["circle","square","triangle-up","square"]},"legend":null}}},
{"data":{"name":"st"},"transform":[{"filter":"datum.p=='TNF'"}],"mark":{"type":"rule","strokeWidth":1.1},"encoding":{"x":{"field":"x","type":"quantitative"},"y":{"field":"lo","type":"quantitative"},"y2":{"field":"hi"}}},
{"data":{"name":"st"},"transform":[{"filter":"datum.p=='TNF'"}],"mark":{"type":"tick","orient":"horizontal","thickness":1.1},"encoding":{"x":{"field":"x","type":"quantitative"},"y":{"field":"m","type":"quantitative"},"size":{"value":30}}},
{"data":{"name":"st"},"transform":[{"filter":"datum.p=='TNF'"},{"fold":["lo","hi"],"as":["k","e"]}],"mark":{"type":"tick","orient":"horizontal","thickness":1.1},"encoding":{"x":{"field":"x","type":"quantitative"},"y":{"field":"e","type":"quantitative"},"size":{"value":14}}},
{"data":{"name":"sig"},"transform":[{"filter":"datum.p=='TNF'"}],"mark":{"type":"rule","strokeWidth":1},"encoding":{"x":{"field":"a","type":"quantitative"},"x2":{"field":"b"},"y":{"field":"y","type":"quantitative"}}},
{"data":{"name":"sig"},"transform":[{"filter":"datum.p=='TNF'"},{"fold":["a","b"],"as":["k","e"]}],"mark":{"type":"rule","strokeWidth":1},"encoding":{"x":{"field":"e","type":"quantitative"},"y":{"field":"y","type":"quantitative"},"y2":{"field":"y0"}}},
{"data":{"name":"sig"},"transform":[{"filter":"datum.p=='TNF'"}],"mark":{"type":"text","baseline":"bottom","dy":-1,"fontSize":8.5},"encoding":{"x":{"field":"m","type":"quantitative"},"y":{"field":"y","type":"quantitative"},"text":{"field":"t"}}}
]}
]}
],"spacing":2},
{"title":{"text":"C","anchor":"start","frame":"bounds","fontSize":15,"fontWeight":"normal","font":"Liberation Sans Narrow, DejaVu Sans Condensed, sans-serif","offset":-6},
"columns":3,"bounds":"flush","spacing":{"row":38,"column":38},
"concat":[
{"width":117,"height":75,"title":{"text":"CCL2","fontSize":8,"offset":-7},
"layer":[
{"data":{"name":"pts"},"transform":[{"filter":"datum.p=='CCL2'"}],"mark":{"type":"point","size":9},
"encoding":{"x":{"field":"x","type":"quantitative","scale":{"domain":[0.55,2.45],"nice":false,"zero":false},"axis":{"values":[1,2],"tickCount":10,"labelExpr":"datum.value==1?'CON':'PDR'","title":null,"labelFontSize":6,"labelOverlap":false}},
"y":{"field":"v","type":"quantitative","scale":{"domain":[0,25000],"nice":false},"axis":{"values":[0,5000,10000,15000,20000,25000],"tickCount":10,"format":"d","labelOverlap":false,"title":["Biomarker concentration","(pg/mL)"],"titleFontSize":9.6,"labelFontSize":5,"titlePadding":3}},
"shape":{"field":"g","type":"nominal","scale":{"domain":["C","P","W","A"],"range":["circle","square","triangle-up","square"]},"legend":null}}},
{"data":{"name":"st"},"transform":[{"filter":"datum.p=='CCL2'"}],"mark":{"type":"rule","strokeWidth":1.2},"encoding":{"x":{"field":"x","type":"quantitative"},"y":{"field":"lo","type":"quantitative"},"y2":{"field":"hi"}}},
{"data":{"name":"st"},"transform":[{"filter":"datum.p=='CCL2'"}],"mark":{"type":"tick","orient":"horizontal","thickness":1.2},"encoding":{"x":{"field":"x","type":"quantitative"},"y":{"field":"m","type":"quantitative"},"size":{"value":38}}},
{"data":{"name":"st"},"transform":[{"filter":"datum.p=='CCL2'"},{"fold":["lo","hi"],"as":["k","e"]}],"mark":{"type":"tick","orient":"horizontal","thickness":1.2},"encoding":{"x":{"field":"x","type":"quantitative"},"y":{"field":"e","type":"quantitative"},"size":{"value":20}}}
]},
{"width":122,"height":75,"title":{"text":"CXCL10","fontSize":8,"offset":-4},
"layer":[
{"data":{"name":"pts"},"transform":[{"filter":"datum.p=='CXCL10'"}],"mark":{"type":"point","size":9},
"encoding":{"x":{"field":"x","type":"quantitative","scale":{"domain":[0.55,2.45],"nice":false,"zero":false},"axis":{"values":[1,2],"tickCount":10,"labelExpr":"datum.value==1?'CON':'PDR'","title":null,"labelFontSize":6,"labelOverlap":false}},
"y":{"field":"v","type":"quantitative","scale":{"domain":[0,3000],"nice":false},"axis":{"values":[0,1000,2000,3000],"tickCount":10,"format":"d","labelOverlap":false,"title":["Biomarker concentration","(pg/mL)"],"titleFontSize":9.6,"labelFontSize":5,"titlePadding":3}},
"shape":{"field":"g","type":"nominal","scale":{"domain":["C","P","W","A"],"range":["circle","square","triangle-up","square"]},"legend":null}}},
{"data":{"name":"st"},"transform":[{"filter":"datum.p=='CXCL10'"}],"mark":{"type":"rule","strokeWidth":1.2},"encoding":{"x":{"field":"x","type":"quantitative"},"y":{"field":"lo","type":"quantitative"},"y2":{"field":"hi"}}},
{"data":{"name":"st"},"transform":[{"filter":"datum.p=='CXCL10'"}],"mark":{"type":"tick","orient":"horizontal","thickness":1.2},"encoding":{"x":{"field":"x","type":"quantitative"},"y":{"field":"m","type":"quantitative"},"size":{"value":38}}},
{"data":{"name":"st"},"transform":[{"filter":"datum.p=='CXCL10'"},{"fold":["lo","hi"],"as":["k","e"]}],"mark":{"type":"tick","orient":"horizontal","thickness":1.2},"encoding":{"x":{"field":"x","type":"quantitative"},"y":{"field":"e","type":"quantitative"},"size":{"value":20}}},
{"data":{"name":"sig"},"transform":[{"filter":"datum.p=='CXCL10'"}],"mark":{"type":"rule","strokeWidth":1},"encoding":{"x":{"field":"a","type":"quantitative"},"x2":{"field":"b"},"y":{"field":"y","type":"quantitative"}}},
{"data":{"name":"sig"},"transform":[{"filter":"datum.p=='CXCL10'"},{"fold":["a","b"],"as":["k","e"]}],"mark":{"type":"rule","strokeWidth":1},"encoding":{"x":{"field":"e","type":"quantitative"},"y":{"field":"y","type":"quantitative"},"y2":{"field":"y0"}}},
{"data":{"name":"sig"},"transform":[{"filter":"datum.p=='CXCL10'"}],"mark":{"type":"text","baseline":"bottom","dy":0,"fontSize":9},"encoding":{"x":{"field":"m","type":"quantitative"},"y":{"field":"y","type":"quantitative"},"text":{"field":"t"}}}
]},
{"width":112,"height":75,"title":{"text":"CX3CL1","fontSize":8,"offset":-8},
"layer":[
{"data":{"name":"pts"},"transform":[{"filter":"datum.p=='CX3CL1'"}],"mark":{"type":"point","size":9},
"encoding":{"x":{"field":"x","type":"quantitative","scale":{"domain":[0.55,2.45],"nice":false,"zero":false},"axis":{"values":[1,2],"tickCount":10,"labelExpr":"datum.value==1?'CON':'PDR'","title":null,"labelFontSize":6,"labelOverlap":false}},
"y":{"field":"v","type":"quantitative","scale":{"domain":[0,2000],"nice":false},"axis":{"values":[0,500,1000,1500,2000],"tickCount":10,"format":"d","labelOverlap":false,"title":["Biomarker concentration","(pg/mL)"],"titleFontSize":9.6,"labelFontSize":5,"titlePadding":3}},
"shape":{"field":"g","type":"nominal","scale":{"domain":["C","P","W","A"],"range":["circle","square","triangle-up","square"]},"legend":null}}},
{"data":{"name":"st"},"transform":[{"filter":"datum.p=='CX3CL1'"}],"mark":{"type":"rule","strokeWidth":1.2},"encoding":{"x":{"field":"x","type":"quantitative"},"y":{"field":"lo","type":"quantitative"},"y2":{"field":"hi"}}},
{"data":{"name":"st"},"transform":[{"filter":"datum.p=='CX3CL1'"}],"mark":{"type":"tick","orient":"horizontal","thickness":1.2},"encoding":{"x":{"field":"x","type":"quantitative"},"y":{"field":"m","type":"quantitative"},"size":{"value":38}}},
{"data":{"name":"st"},"transform":[{"filter":"datum.p=='CX3CL1'"},{"fold":["lo","hi"],"as":["k","e"]}],"mark":{"type":"tick","orient":"horizontal","thickness":1.2},"encoding":{"x":{"field":"x","type":"quantitative"},"y":{"field":"e","type":"quantitative"},"size":{"value":20}}}
]},
{"width":113,"height":72,"title":{"text":"CXCL1","fontSize":8,"offset":-13},
"layer":[
{"data":{"name":"pts"},"transform":[{"filter":"datum.p=='CXCL1'"}],"mark":{"type":"point","size":9},
"encoding":{"x":{"field":"x","type":"quantitative","scale":{"domain":[0.55,2.45],"nice":false,"zero":false},"axis":{"values":[1,2],"tickCount":10,"labelExpr":"datum.value==1?'CON':'PDR'","title":null,"labelFontSize":6,"labelOverlap":false}},
"y":{"field":"v","type":"quantitative","scale":{"domain":[0,400],"nice":false},"axis":{"values":[0,100,200,300,400],"tickCount":10,"format":"d","labelOverlap":false,"title":["Biomarker concentration","(pg/mL)"],"titleFontSize":9.6,"labelFontSize":5,"titlePadding":3}},
"shape":{"field":"g","type":"nominal","scale":{"domain":["C","P","W","A"],"range":["circle","square","triangle-up","square"]},"legend":null}}},
{"data":{"name":"st"},"transform":[{"filter":"datum.p=='CXCL1'"}],"mark":{"type":"rule","strokeWidth":1.2},"encoding":{"x":{"field":"x","type":"quantitative"},"y":{"field":"lo","type":"quantitative"},"y2":{"field":"hi"}}},
{"data":{"name":"st"},"transform":[{"filter":"datum.p=='CXCL1'"}],"mark":{"type":"tick","orient":"horizontal","thickness":1.2},"encoding":{"x":{"field":"x","type":"quantitative"},"y":{"field":"m","type":"quantitative"},"size":{"value":38}}},
{"data":{"name":"st"},"transform":[{"filter":"datum.p=='CXCL1'"},{"fold":["lo","hi"],"as":["k","e"]}],"mark":{"type":"tick","orient":"horizontal","thickness":1.2},"encoding":{"x":{"field":"x","type":"quantitative"},"y":{"field":"e","type":"quantitative"},"size":{"value":20}}}
]},
{"width":111,"height":72,"title":{"text":"IFN-γ","fontSize":8,"offset":-6},
"layer":[
{"data":{"name":"pts"},"transform":[{"filter":"datum.p=='IFN'"}],"mark":{"type":"point","size":9},
"encoding":{"x":{"field":"x","type":"quantitative","scale":{"domain":[0.55,2.45],"nice":false,"zero":false},"axis":{"values":[1,2],"tickCount":10,"labelExpr":"datum.value==1?'CON':'PDR'","title":null,"labelFontSize":6,"labelOverlap":false}},
"y":{"field":"v","type":"quantitative","scale":{"domain":[0,40],"nice":false},"axis":{"values":[0,10,20,30,40],"tickCount":10,"format":"d","labelOverlap":false,"title":["Biomarker concentration","(pg/mL)"],"titleFontSize":9.6,"labelFontSize":5,"titlePadding":3}},
"shape":{"field":"g","type":"nominal","scale":{"domain":["C","P","W","A"],"range":["circle","square","triangle-up","square"]},"legend":null}}},
{"data":{"name":"st"},"transform":[{"filter":"datum.p=='IFN'"}],"mark":{"type":"rule","strokeWidth":1.2},"encoding":{"x":{"field":"x","type":"quantitative"},"y":{"field":"lo","type":"quantitative"},"y2":{"field":"hi"}}},
{"data":{"name":"st"},"transform":[{"filter":"datum.p=='IFN'"}],"mark":{"type":"tick","orient":"horizontal","thickness":1.2},"encoding":{"x":{"field":"x","type":"quantitative"},"y":{"field":"m","type":"quantitative"},"size":{"value":38}}},
{"data":{"name":"st"},"transform":[{"filter":"datum.p=='IFN'"},{"fold":["lo","hi"],"as":["k","e"]}],"mark":{"type":"tick","orient":"horizontal","thickness":1.2},"encoding":{"x":{"field":"x","type":"quantitative"},"y":{"field":"e","type":"quantitative"},"size":{"value":20}}},
{"data":{"name":"sig"},"transform":[{"filter":"datum.p=='IFN'"}],"mark":{"type":"rule","strokeWidth":1},"encoding":{"x":{"field":"a","type":"quantitative"},"x2":{"field":"b"},"y":{"field":"y","type":"quantitative"}}},
{"data":{"name":"sig"},"transform":[{"filter":"datum.p=='IFN'"},{"fold":["a","b"],"as":["k","e"]}],"mark":{"type":"rule","strokeWidth":1},"encoding":{"x":{"field":"e","type":"quantitative"},"y":{"field":"y","type":"quantitative"},"y2":{"field":"y0"}}},
{"data":{"name":"sig"},"transform":[{"filter":"datum.p=='IFN'"}],"mark":{"type":"text","baseline":"bottom","dy":0,"fontSize":9},"encoding":{"x":{"field":"m","type":"quantitative"},"y":{"field":"y","type":"quantitative"},"text":{"field":"t"}}}
]},
{"width":107,"height":72,"title":{"text":"GM-CSF","fontSize":8,"offset":-4},
"layer":[
{"data":{"name":"pts"},"transform":[{"filter":"datum.p=='GMCSF'"}],"mark":{"type":"point","size":9},
"encoding":{"x":{"field":"x","type":"quantitative","scale":{"domain":[0.55,2.45],"nice":false,"zero":false},"axis":{"values":[1,2],"tickCount":10,"labelExpr":"datum.value==1?'CON':'PDR'","title":null,"labelFontSize":6,"labelOverlap":false}},
"y":{"field":"v","type":"quantitative","scale":{"domain":[0,200],"nice":false},"axis":{"values":[0,50,100,150,200],"tickCount":10,"format":"d","labelOverlap":false,"title":["Biomarker concentration","(pg/mL)"],"titleFontSize":9.6,"labelFontSize":5,"titlePadding":3}},
"shape":{"field":"g","type":"nominal","scale":{"domain":["C","P","W","A"],"range":["circle","square","triangle-up","square"]},"legend":null}}},
{"data":{"name":"st"},"transform":[{"filter":"datum.p=='GMCSF'"}],"mark":{"type":"rule","strokeWidth":1.2},"encoding":{"x":{"field":"x","type":"quantitative"},"y":{"field":"lo","type":"quantitative"},"y2":{"field":"hi"}}},
{"data":{"name":"st"},"transform":[{"filter":"datum.p=='GMCSF'"}],"mark":{"type":"tick","orient":"horizontal","thickness":1.2},"encoding":{"x":{"field":"x","type":"quantitative"},"y":{"field":"m","type":"quantitative"},"size":{"value":38}}},
{"data":{"name":"st"},"transform":[{"filter":"datum.p=='GMCSF'"},{"fold":["lo","hi"],"as":["k","e"]}],"mark":{"type":"tick","orient":"horizontal","thickness":1.2},"encoding":{"x":{"field":"x","type":"quantitative"},"y":{"field":"e","type":"quantitative"},"size":{"value":20}}},
{"data":{"name":"sig"},"transform":[{"filter":"datum.p=='GMCSF'"}],"mark":{"type":"rule","strokeWidth":1},"encoding":{"x":{"field":"a","type":"quantitative"},"x2":{"field":"b"},"y":{"field":"y","type":"quantitative"}}},
{"data":{"name":"sig"},"transform":[{"filter":"datum.p=='GMCSF'"},{"fold":["a","b"],"as":["k","e"]}],"mark":{"type":"rule","strokeWidth":1},"encoding":{"x":{"field":"e","type":"quantitative"},"y":{"field":"y","type":"quantitative"},"y2":{"field":"y0"}}},
{"data":{"name":"sig"},"transform":[{"filter":"datum.p=='GMCSF'"}],"mark":{"type":"text","baseline":"bottom","dy":0,"fontSize":9},"encoding":{"x":{"field":"m","type":"quantitative"},"y":{"field":"y","type":"quantitative"},"text":{"field":"t"}}}
]}
]}
],"spacing":6
}
